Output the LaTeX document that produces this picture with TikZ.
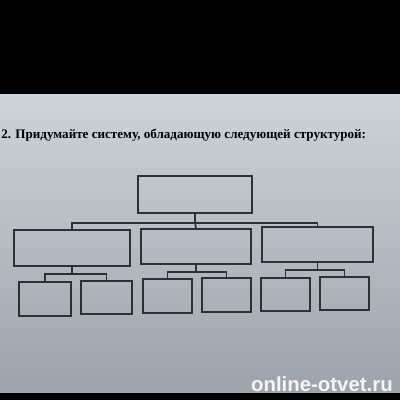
\documentclass[tikz,border=0pt]{standalone}
\usepackage{fontspec}
\setmainfont{Liberation Serif}
\newfontfamily\wmfont{Liberation Sans}
\definecolor{pagetop}{HTML}{CCD3D9}
\definecolor{pagebot}{HTML}{9CA3AB}
\definecolor{ink}{HTML}{2E3034}
\tikzset{
  box/.style={draw=ink, line width=1.2pt, inner sep=0pt},
  link/.style={draw=ink, line width=1.2pt}
}

\begin{document}
\begin{tikzpicture}[x=0.025cm, y=-0.025cm]
\useasboundingbox (0,0) rectangle (400,400);
% the photo: dark bands and the page
\fill[black] (0,0) rectangle (400,95);
\shade[top color=pagetop, bottom color=pagebot] (0,95) rectangle (400,393);
\fill[black] (0,393) rectangle (400,400);

\node[anchor=base west, inner sep=0pt] (Title) at (1,139) {\fontsize{9.3}{11}\selectfont\bfseries 2. Придумайте систему, обладающую следующей структурой:}; % the task

% top level
\node[box, minimum width=114*0.025cm, minimum height=37*0.025cm] (Top) at (195,194.5) {};
% middle level
\node[box, minimum width=116*0.025cm, minimum height=36*0.025cm] (MidL) at (72,248) {};
\node[box, minimum width=110*0.025cm, minimum height=35*0.025cm] (MidM) at (196,246.5) {};
\node[box, minimum width=111*0.025cm, minimum height=35*0.025cm] (MidR) at (317.5,244.5) {};
% bottom level
\node[box, minimum width=52*0.025cm, minimum height=34*0.025cm] (LowLL) at (45,299) {};
\node[box, minimum width=51*0.025cm, minimum height=33*0.025cm] (LowLR) at (106.5,297.5) {};
\node[box, minimum width=49*0.025cm, minimum height=34*0.025cm] (LowML) at (167.5,296) {};
\node[box, minimum width=49*0.025cm, minimum height=34*0.025cm] (LowMR) at (226.5,295) {};
\node[box, minimum width=49*0.025cm, minimum height=33*0.025cm] (LowRL) at (285.5,294.5) {};
\node[box, minimum width=49*0.025cm, minimum height=33*0.025cm] (LowRR) at (344.5,293.5) {};

% connectors
\draw[link] (Top.south) -- ++(0,9) coordinate (JTop);
\draw[link] (MidL.north) |- (JTop) -| (MidR.north);
\draw[link] (JTop) -- (MidM.north);
\foreach \m/\a/\b in {MidL/LowLL/LowLR, MidM/LowML/LowMR, MidR/LowRL/LowRR}{
  \draw[link] (\m.south) -- ++(0,7) coordinate (J\m);
  \draw[link] (\a.north) |- (J\m) -| (\b.north);
}

\node[anchor=base east, inner sep=0pt, text=white!92!gray] (Mark) at (393,391) {\wmfont\fontsize{14.5}{16}\selectfont\bfseries online-otvet.ru}; % the watermark
\end{tikzpicture}
\end{document}
